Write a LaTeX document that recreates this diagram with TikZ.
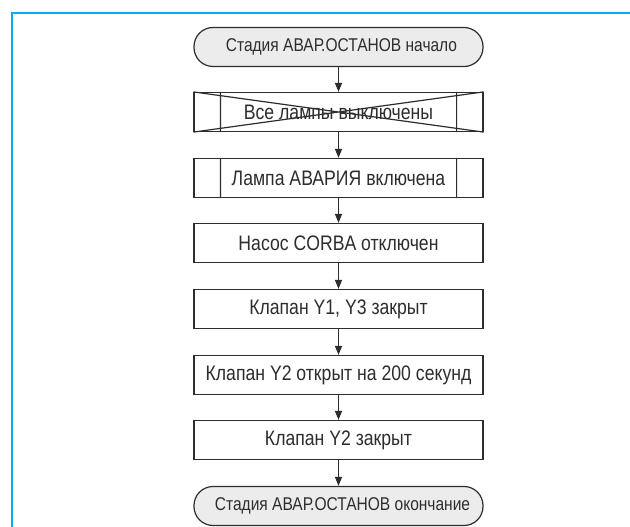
\documentclass[tikz,border=0pt]{standalone}
\usepackage{fontspec}
\setmainfont{Liberation Sans}[FakeStretch=0.84]
\usepackage{xcolor}
\usetikzlibrary{arrows.meta}

\definecolor{frameblue}{RGB}{0,174,239}
\definecolor{linegray}{RGB}{45,45,45}
\definecolor{termfill}{RGB}{236,236,236}

\tikzset{
    stagebox/.style={draw=linegray, line width=1.2pt, rounded corners=19pt, fill=termfill, minimum width=289pt, minimum height=39pt, inner sep=0pt, text=linegray, font=\fontsize{18.5}{22}\selectfont},
    actbox/.style={draw=linegray, line width=1.2pt, fill=white, minimum width=289pt, minimum height=39pt, inner sep=0pt, text=linegray, font=\fontsize{21}{24}\selectfont},
    flow/.style={draw=linegray, line width=1.2pt, -{Triangle[length=9pt,width=7pt]}}
}

\begin{document}
\begin{tikzpicture}[x=1pt, y=-1pt]
        \useasboundingbox (0,0) rectangle (630,527);

        % Frame
        \draw[frameblue, line width=2pt] (12,527) -- (12,13) -- (630,13);

        % Start and end
        \node[stagebox] (start) at (338.5,47) {\hspace*{6pt}Стадия АВАР.ОСТАНОВ начало};
        \node[stagebox] (stop) at (338.5,506) {\hspace*{8pt}Стадия АВАР.ОСТАНОВ окончание};

        % Steps
        \node[actbox] (lampsoff) at (338.5,112) {Все лампы выключены};
        \node[actbox] (lampon) at (338.5,178) {Лампа АВАРИЯ включена};
        \node[actbox] (pump) at (338.5,243) {Насос CORBA отключен};
        \node[actbox] (valveA) at (338.5,309) {Клапан Y1, Y3 закрыт};
        \node[actbox] (valveB) at (338.5,375) {Клапан Y2 открыт на 200 секунд};
        \node[actbox] (valveC) at (338.5,440) {Клапан Y2 закрыт};

        % Side bars and cross
        \draw[linegray, line width=1.2pt]
            ([xshift=27pt]lampsoff.north west) -- ([xshift=27pt]lampsoff.south west)
            ([xshift=-27pt]lampsoff.north east) -- ([xshift=-27pt]lampsoff.south east)
            (lampsoff.north west) -- (lampsoff.south east)
            (lampsoff.south west) -- (lampsoff.north east)
            ([xshift=27pt]lampon.north west) -- ([xshift=27pt]lampon.south west)
            ([xshift=-27pt]lampon.north east) -- ([xshift=-27pt]lampon.south east);

        % Arrows
        \draw[flow] (start) -- (lampsoff);
        \draw[flow] (lampsoff) -- (lampon);
        \draw[flow] (lampon) -- (pump);
        \draw[flow] (pump) -- (valveA);
        \draw[flow] (valveA) -- (valveB);
        \draw[flow] (valveB) -- (valveC);
        \draw[flow] (valveC) -- (stop);

    \end{tikzpicture}
\end{document}
